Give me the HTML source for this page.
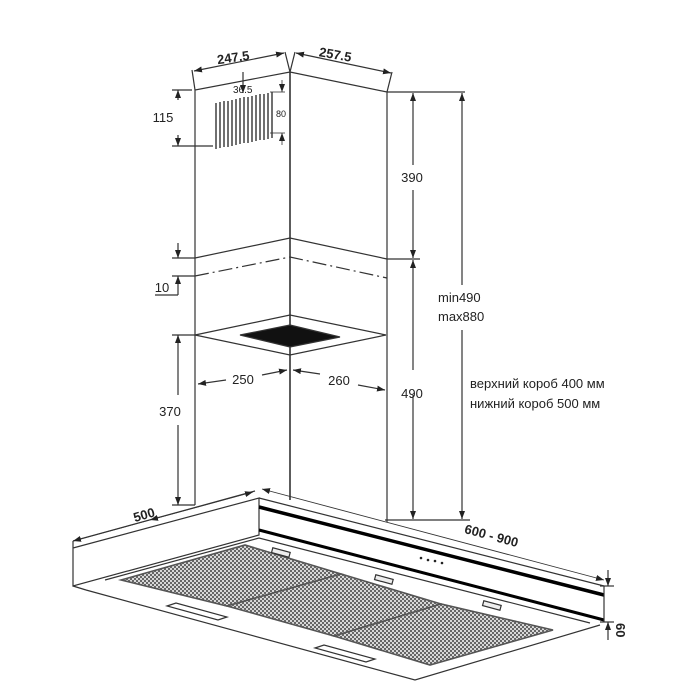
<!DOCTYPE html>
<html><head><meta charset="utf-8"><style>html,body{margin:0;padding:0;background:#fff}svg{display:block}text{font-family:"Liberation Sans",sans-serif;fill:#222}</style></head>
<body>
<svg width="700" height="700" viewBox="0 0 700 700" xmlns="http://www.w3.org/2000/svg">
<defs>
<pattern id="mesh" width="4" height="4" patternUnits="userSpaceOnUse">
<rect width="4" height="4" fill="#d8d8d8"/><rect width="2" height="2" fill="#666"/><rect x="2" y="2" width="2" height="2" fill="#666"/>
</pattern>
<marker id="a" markerWidth="8" markerHeight="6" refX="8" refY="3" orient="auto" markerUnits="userSpaceOnUse"><path d="M0,0 L8,3 L0,6z" fill="#222"/></marker>
<marker id="b" markerWidth="8" markerHeight="6" refX="0" refY="3" orient="auto" markerUnits="userSpaceOnUse"><path d="M8,0 L0,3 L8,6z" fill="#222"/></marker>
</defs>
<g stroke="#333" stroke-width="1.2" fill="none">
<polyline points="195,505 195,90 290,72 387,92 387,522"/>
<line x1="290" y1="72" x2="290" y2="500" stroke-width="1.6"/>
<polyline points="195,258 290,238 387,259"/>
<polyline points="195,276 290,257 387,278" stroke-dasharray="14,4,2,4"/>
<polygon points="195,335 290,315 386,335 290,355"/>
<polygon points="240,335 290,325 340,337 290,347" fill="#111"/>
<line x1="192" y1="70" x2="195" y2="90"/><line x1="285" y1="52" x2="290" y2="72"/><line x1="295" y1="52" x2="290" y2="72"/><line x1="392" y1="72" x2="387" y2="92"/>
<line x1="194" y1="71" x2="284" y2="53" marker-start="url(#b)" marker-end="url(#a)"/>
<line x1="296" y1="53" x2="391" y2="73" marker-start="url(#b)" marker-end="url(#a)"/>
<line x1="243" y1="72" x2="243" y2="93" marker-end="url(#a)"/>
<g stroke-width="1.4">
<line x1="216" y1="103" x2="216" y2="149"/><line x1="220" y1="102" x2="220" y2="148"/><line x1="224" y1="101" x2="224" y2="147"/><line x1="228" y1="101" x2="228" y2="147"/><line x1="232" y1="100" x2="232" y2="146"/><line x1="236" y1="99" x2="236" y2="145"/><line x1="240" y1="98" x2="240" y2="144"/><line x1="244" y1="97" x2="244" y2="143"/><line x1="248" y1="97" x2="248" y2="143"/><line x1="252" y1="96" x2="252" y2="142"/><line x1="256" y1="95" x2="256" y2="141"/><line x1="260" y1="94" x2="260" y2="140"/><line x1="264" y1="94" x2="264" y2="140"/><line x1="268" y1="93" x2="268" y2="139"/><line x1="272" y1="92" x2="272" y2="138"/>
</g>
<line x1="270" y1="92" x2="285" y2="92" stroke-width="0.8"/><line x1="270" y1="133" x2="285" y2="133" stroke-width="0.8"/>
<line x1="282" y1="80" x2="282" y2="92" marker-end="url(#a)" stroke-width="0.8"/><line x1="282" y1="145" x2="282" y2="133" marker-end="url(#a)" stroke-width="0.8"/>
<line x1="172" y1="90" x2="192" y2="90"/><line x1="172" y1="146" x2="213" y2="146"/>
<line x1="178" y1="100" x2="178" y2="90" marker-end="url(#a)"/><line x1="178" y1="135" x2="178" y2="146" marker-end="url(#a)"/>
<line x1="172" y1="258" x2="195" y2="258"/><line x1="172" y1="276" x2="195" y2="276"/>
<line x1="178" y1="243" x2="178" y2="258" marker-end="url(#a)"/><line x1="178" y1="295" x2="178" y2="276" marker-end="url(#a)"/>
<polyline points="155,295 178,295"/>
<line x1="172" y1="335" x2="195" y2="335"/><line x1="172" y1="505" x2="195" y2="505"/>
<line x1="178" y1="395" x2="178" y2="335" marker-end="url(#a)"/><line x1="178" y1="425" x2="178" y2="505" marker-end="url(#a)"/>
<line x1="226" y1="380" x2="198" y2="384" marker-end="url(#a)"/><line x1="262" y1="375" x2="287" y2="370" marker-end="url(#a)"/>
<line x1="320" y1="374" x2="293" y2="370" marker-end="url(#a)"/><line x1="358" y1="385" x2="385" y2="390" marker-end="url(#a)"/>
<line x1="387" y1="92" x2="465" y2="92"/><line x1="387" y1="259" x2="420" y2="259"/>
<line x1="413" y1="165" x2="413" y2="93" marker-end="url(#a)"/><line x1="413" y1="190" x2="413" y2="258" marker-end="url(#a)"/>
<line x1="413" y1="370" x2="413" y2="260" marker-end="url(#a)"/><line x1="413" y1="395" x2="413" y2="519" marker-end="url(#a)"/>
<line x1="462" y1="285" x2="462" y2="93" marker-end="url(#a)"/><line x1="462" y1="330" x2="462" y2="519" marker-end="url(#a)"/>
<line x1="385" y1="520" x2="470" y2="520"/>
<polyline points="73,548 73,586 259,535 259,498 73,548"/>
<polyline points="73,541 255,491"/>
<line x1="73" y1="541" x2="73" y2="548"/>
<line x1="259" y1="498" x2="604" y2="586"/>
<line x1="259" y1="507" x2="604" y2="595" stroke="#000" stroke-width="3.5"/>
<line x1="259" y1="530" x2="604" y2="620" stroke="#000" stroke-width="3"/>
<line x1="604" y1="586" x2="604" y2="622"/>
<polyline points="86,590 415,680 600,625"/>
<line x1="73" y1="586" x2="86" y2="590"/>
<polyline points="105,580 259,538 590,623"/>
<polygon points="121,580 245,545 341,574 227,606" fill="url(#mesh)" stroke="#555" stroke-width="1.6"/>
<polygon points="227,606 341,574 441,604 334,636" fill="url(#mesh)" stroke="#555" stroke-width="1.6"/>
<polygon points="334,636 441,604 553,630 430,665" fill="url(#mesh)" stroke="#555" stroke-width="1.6"/>
<polygon points="167,606 176,603 227,617 218,620" fill="#fff"/>
<polygon points="315,648 324,645 375,659 366,662" fill="#fff"/>
<rect x="272" y="550" width="18" height="5" fill="#eee" transform="rotate(15 281 552)"/>
<rect x="375" y="577" width="18" height="5" fill="#eee" transform="rotate(15 384 579)"/>
<rect x="483" y="603" width="18" height="5" fill="#eee" transform="rotate(15 492 605)"/>
<line x1="150" y1="520" x2="253" y2="492" marker-start="url(#b)" marker-end="url(#a)" stroke-width="0.9"/>
<line x1="73" y1="541" x2="150" y2="520" stroke-width="0.9" marker-start="url(#b)"/>
<line x1="262" y1="489" x2="604" y2="580" marker-start="url(#b)" marker-end="url(#a)" stroke-width="0.9"/>
<line x1="608" y1="570" x2="608" y2="586" marker-end="url(#a)"/><line x1="608" y1="640" x2="608" y2="622" marker-end="url(#a)"/>
<line x1="600" y1="586" x2="614" y2="586"/><line x1="600" y1="622" x2="614" y2="622"/>
</g>
<g fill="#222"><circle cx="421" cy="558" r="1.3"/><circle cx="428" cy="560" r="1.3"/><circle cx="435" cy="561" r="1.3"/><circle cx="442" cy="563" r="1.3"/></g>
<text x="217" y="62" font-size="13" font-weight="bold" transform="rotate(-8 233 58)">247.5</text>
<text x="319" y="59" font-size="13" font-weight="bold" transform="rotate(10 335 55)">257.5</text>
<text x="233" y="93" font-size="10">36.5</text>
<text x="276" y="117" font-size="9">80</text>
<text x="163" y="122" font-size="13" text-anchor="middle">115</text>
<text x="162" y="292" font-size="13" text-anchor="middle">10</text>
<text x="170" y="416" font-size="13" text-anchor="middle">370</text>
<text x="243" y="384" font-size="13" text-anchor="middle">250</text>
<text x="339" y="385" font-size="13" text-anchor="middle">260</text>
<text x="412" y="182" font-size="13" text-anchor="middle">390</text>
<text x="412" y="398" font-size="13" text-anchor="middle">490</text>
<text x="438" y="302" font-size="13">min490</text>
<text x="438" y="321" font-size="13">max880</text>
<text x="470" y="388" font-size="13">верхний короб 400 мм</text>
<text x="470" y="408" font-size="13">нижний короб 500 мм</text>
<text x="133" y="519" font-size="13" font-weight="bold" transform="rotate(-16 145 514)">500</text>
<text x="464" y="539" font-size="13" font-weight="bold" transform="rotate(15 487 535)">600 - 900</text>
<text x="613" y="634" font-size="13" font-weight="bold" transform="rotate(90 620 630)">60</text>
</svg>
</body></html>
